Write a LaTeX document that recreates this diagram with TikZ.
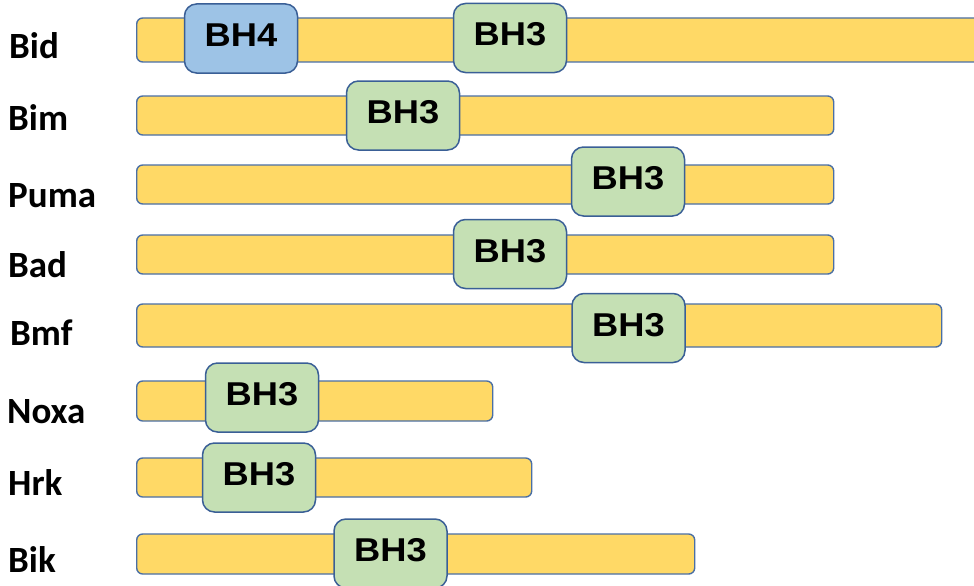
\documentclass[tikz,border=0pt]{standalone}
\usepackage{fontspec}
\usepackage{tikz}
\usetikzlibrary{positioning}
\usepackage{xcolor}
\newfontfamily\protfont{Carlito}
\newfontfamily\domfont{Liberation Sans}[FakeStretch=1.1]
\definecolor{chain-fill}{HTML}{FFD966}
\definecolor{chain-edge}{HTML}{4A6FA5}
\definecolor{bh3-fill}{HTML}{C5E0B4}
\definecolor{bh4-fill}{HTML}{9DC3E6}
\definecolor{domain-edge}{HTML}{3A5F96}

\begin{document}
\begin{tikzpicture}[x=1pt,y=-1pt]
  \tikzstyle{chain}=[draw=chain-edge, fill=chain-fill, line width=1.4pt,
    rounded corners=6pt, inner sep=0pt, anchor=west]
  \tikzstyle{bhbox}=[draw=domain-edge, line width=1.5pt, rounded corners=12pt,
    inner sep=0pt, minimum width=113pt, minimum height=69pt,
    text height=24pt, text depth=8pt,
    font=\domfont\bfseries\fontsize{33}{36}\selectfont]
  \tikzstyle{bh3}=[bhbox, fill=bh3-fill]
  \tikzstyle{bh4}=[bhbox, fill=bh4-fill]
  \tikzstyle{protein}=[anchor=base west, inner sep=0pt,
    font=\protfont\bfseries\fontsize{37}{40}\selectfont]

  \useasboundingbox (0,0) rectangle (974,586);
  \clip (0,0) rectangle (974,586);

  %% protein names
  \node[protein] (n1) at (9,59)  {Bid};
  \node[protein] (n2) at (8,130) {Bim};
  \node[protein] (n3) at (8,207) {Puma};
  \node[protein] (n4) at (8,277) {Bad};
  \node[protein] (n5) at (10,345) {Bmf};
  \node[protein] (n6) at (7,423) {Noxa};
  \node[protein] (n7) at (8,495) {Hrk};
  \node[protein] (n8) at (8,572) {Bik};

  %% chains
  \node[chain, minimum width=870pt, minimum height=44pt] (c1) at (136,40)    {};
  \node[chain, minimum width=697pt, minimum height=39pt] (c2) at (136,115.5) {};
  \node[chain, minimum width=697pt, minimum height=39pt] (c3) at (136,184.5) {};
  \node[chain, minimum width=697pt, minimum height=39pt] (c4) at (136,254.5) {};
  \node[chain, minimum width=805pt, minimum height=43pt] (c5) at (136,325.5) {};
  \node[chain, minimum width=356pt, minimum height=40pt] (c6) at (136,401)   {};
  \node[chain, minimum width=395pt, minimum height=39pt] (c7) at (136,477.5) {};
  \node[chain, minimum width=558pt, minimum height=40pt] (c8) at (136,554)   {};

  %% BH domains
  \node[bh4] (d1a) at (241,38.5)   {BH4};
  \node[bh3] (d1b) at (510,38)     {BH3};
  \node[bh3] (d2)  at (403,115.5)  {BH3};
  \node[bh3] (d3)  at (628,181.5)  {BH3};
  \node[bh3] (d4)  at (510,254)    {BH3};
  \node[bh3] (d5)  at (628.5,328)  {BH3};
  \node[bh3] (d6)  at (262,397.5)  {BH3};
  \node[bh3] (d7)  at (259,477.5)  {BH3};
  \node[bh3] (d8)  at (390.5,553.5) {BH3};
\end{tikzpicture}
\end{document}
